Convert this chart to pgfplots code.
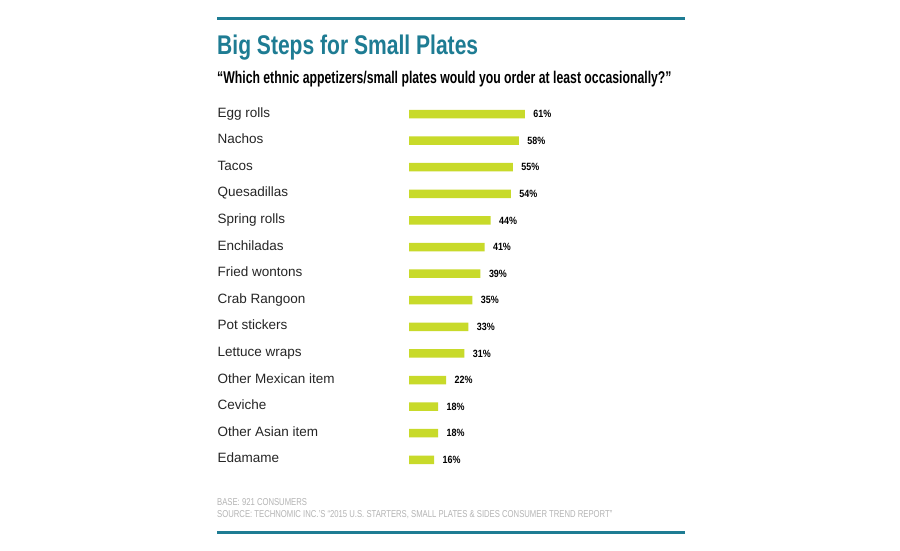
\documentclass[border=0pt]{standalone}
\usepackage{pgfplots}
\pgfplotsset{compat=1.18}
\usepackage{pgfplotstable}
\usepackage{fontspec}
\setmainfont{Liberation Sans}
\newfontfamily\titlefont{Liberation Sans}[FakeStretch=0.78]
\newfontfamily\subfont{Liberation Sans}[FakeStretch=0.72]
\newfontfamily\footfont{Liberation Sans}[FakeStretch=0.77]
\newfontfamily\valfont{Liberation Sans}[FakeStretch=0.85]

\definecolor{brandteal}{HTML}{1E7C93}
\definecolor{barlime}{HTML}{C8DA2A}
\definecolor{footgray}{HTML}{B4B4B4}

% share of consumers ordering each item at least occasionally (%)
\pgfplotstableread{
y v
0 61
1 58
2 55
3 54
4 44
5 41
6 39
7 35
8 33
9 31
10 22
11 18
12 18
13 16
}\platestable

\begin{document}
\begin{tikzpicture}
\path[fill=white, use as bounding box] (0pt,0pt) rectangle (900pt,-550pt);

% rules above and below
\draw[brandteal, line width=2.5pt] (217pt,-18.5pt) -- (685pt,-18.5pt);
\draw[brandteal, line width=2.5pt] (217pt,-532.5pt) -- (685pt,-532.5pt);

% headings
\node[anchor=base west, inner sep=0pt, text=brandteal] at (217pt,-54.5pt)
  {\titlefont\bfseries\fontsize{27}{30}\selectfont Big Steps for Small Plates};
\node[anchor=base west, inner sep=0pt, text=black] at (217pt,-83pt)
  {\subfont\bfseries\fontsize{17}{20}\selectfont “Which ethnic appetizers/small plates would you order at least occasionally?”};

\begin{axis}[
  at={(409pt,-100.7pt)}, anchor=north west,
  scale only axis, width=154.3pt, height=372.4pt,
  xmin=3.6, xmax=80, ymin=-0.5, ymax=13.5, y dir=reverse,
  xbar, bar width=8.5pt,
  axis line style={draw=none},
  xtick=\empty,
  ytick={0,...,13},
  yticklabels={Egg rolls, Nachos, Tacos, Quesadillas, Spring rolls, Enchiladas,
    Fried wontons, Crab Rangoon, Pot stickers, Lettuce wraps, Other Mexican item,
    Ceviche, Other Asian item, Edamame},
  major tick length=0pt,
  yticklabel style={anchor=base west, xshift=-195pt, yshift=-3pt, text=black!85,
    font=\fontsize{13.5}{16}\selectfont},
  /pgf/number format/assume math mode=true,
  point meta=x,
  nodes near coords={\pgfmathprintnumber{\pgfplotspointmeta}\%},
  nodes near coords style={anchor=west, xshift=5pt, text=black,
    font=\valfont\bfseries\fontsize{10.5}{12}\selectfont},
]
\addplot[fill=barlime, draw=none] table[x=v, y=y] {\platestable};
\end{axis}

% footnotes
\node[anchor=base west, inner sep=0pt, text=footgray] at (217pt,-505pt)
  {\footfont\fontsize{10}{12}\selectfont BASE: 921 CONSUMERS};
\node[anchor=base west, inner sep=0pt, text=footgray] at (217pt,-517pt)
  {\footfont\fontsize{10}{12}\selectfont SOURCE: TECHNOMIC INC.’S “2015 U.S. STARTERS, SMALL PLATES \& SIDES CONSUMER TREND REPORT”};
\end{tikzpicture}
\end{document}
